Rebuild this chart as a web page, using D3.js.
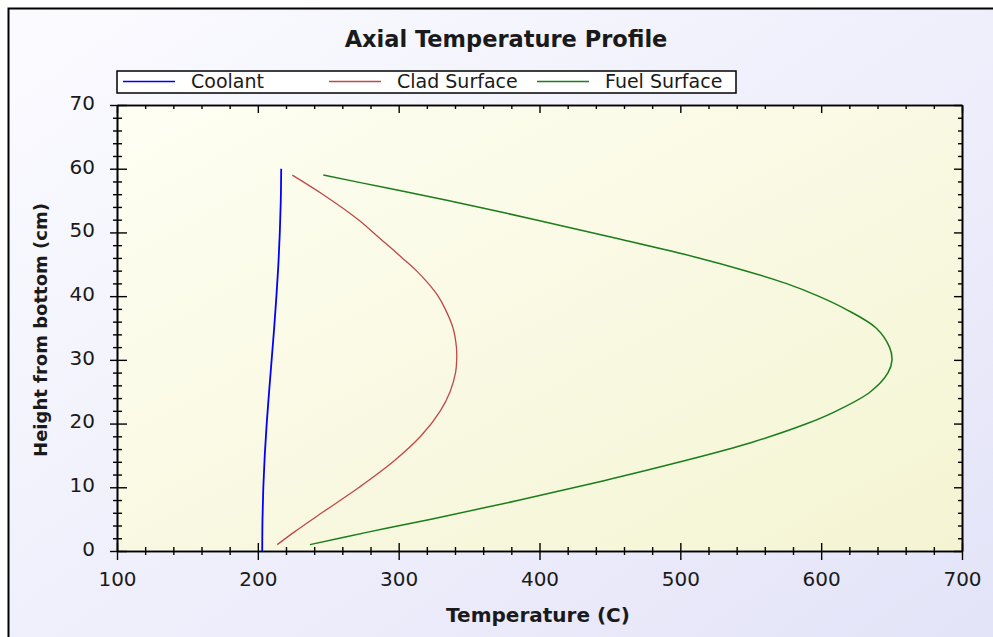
<!DOCTYPE html>
<html>
<head>
<meta charset="utf-8">
<script src="https://cdn.jsdelivr.net/npm/d3@7"></script>
<style>
  body { margin: 0; background: #ffffff; }
  svg { display: block; }
</style>
</head>
<body>
<div id="chart"></div>
<script>
// series data (height in cm, temperature in C)
const coolantHeights = [0, 5, 10, 15, 20, 25, 30, 35, 40, 45, 50, 55, 60];
const coolantTemps = [203.1, 203.3, 203.9, 204.9, 206.3, 208.0, 209.8, 211.6, 213.2, 214.6, 215.6, 216.3, 216.6];

const cladHeights = [1, 3, 6, 10, 14, 18, 22, 25, 28, 30, 32, 35, 38, 40, 42, 44, 46, 49, 52, 56, 59];
const cladTemps = [213.8, 226, 245.5, 272, 296, 315.6, 329.6, 336.5, 340.4, 341.2, 341, 338.6, 333, 328, 321, 312.5, 302.5, 287, 271.4, 246, 224.5];

const fuelHeights = [1, 3, 5, 8, 11, 14, 17, 20, 22, 25, 28, 30, 32, 35, 38, 40, 42, 44, 46, 49, 52, 55, 57, 59];
const fuelTemps = [237, 279, 323, 386, 445, 500, 550, 590, 611, 635, 647.5, 650.3, 648.5, 639, 617, 598, 575, 546, 513, 456, 397, 335, 291, 246.5];

const seriesNames = ['Coolant', 'Clad Surface', 'Fuel Surface'];
const xMajorTicks = [100, 200, 300, 400, 500, 600, 700];
const yMajorTicks = [0, 10, 20, 30, 40, 50, 60, 70];

class ProfileChart {

  constructor(_config) {
    this.config = {
      parentElement: _config.parentElement,
      containerWidth: 993,
      containerHeight: 637,
      margin: {top: 105, right: 31, bottom: 86, left: 117}
    };
    this.series = [
      {name: seriesNames[0], color: '#0000ff', width: 1.8, points: coolantHeights.map((h, i) => ({h: h, t: coolantTemps[i]}))},
      {name: seriesNames[1], color: '#c04848', width: 1.3, points: cladHeights.map((h, i) => ({h: h, t: cladTemps[i]}))},
      {name: seriesNames[2], color: '#1a7d1a', width: 1.5, points: fuelHeights.map((h, i) => ({h: h, t: fuelTemps[i]}))}
    ];
    this.initVis();
  }

  initVis() {
    let vis = this;
    const m = vis.config.margin;
    vis.width = vis.config.containerWidth - m.left - m.right;
    vis.height = vis.config.containerHeight - m.top - m.bottom;

    vis.svg = d3.select(vis.config.parentElement).append('svg')
      .attr('width', vis.config.containerWidth)
      .attr('height', vis.config.containerHeight);

    // gradients
    const defs = vis.svg.append('defs');
    const outerGrad = defs.append('linearGradient').attr('id', 'outerGrad')
      .attr('x1', '0%').attr('y1', '0%').attr('x2', '100%').attr('y2', '100%');
    outerGrad.append('stop').attr('offset', '0%').attr('stop-color', '#fbfbff');
    outerGrad.append('stop').attr('offset', '100%').attr('stop-color', '#e2e2f8');
    const plotGrad = defs.append('linearGradient').attr('id', 'plotGrad')
      .attr('x1', '0%').attr('y1', '0%').attr('x2', '100%').attr('y2', '100%');
    plotGrad.append('stop').attr('offset', '0%').attr('stop-color', '#fefef3');
    plotGrad.append('stop').attr('offset', '100%').attr('stop-color', '#f4f4d3');

    // outer panel (runs past the right and bottom edge)
    vis.svg.append('rect')
      .attr('x', 8.5).attr('y', 8.5)
      .attr('width', 1000).attr('height', 700)
      .attr('fill', 'url(#outerGrad)')
      .attr('stroke', '#000').attr('stroke-width', 2);

    vis.chart = vis.svg.append('g')
      .attr('transform', `translate(${m.left},${m.top})`);

    vis.chart.append('rect')
      .attr('width', vis.width).attr('height', vis.height)
      .attr('fill', 'url(#plotGrad)');

    // scales
    vis.xScale = d3.scaleLinear().domain([100, 700]).range([0, vis.width]);
    vis.yScale = d3.scaleLinear().domain([0, 70]).range([vis.height, 0]);

    const xMinor = d3.range(100, 701, 20).filter(v => v % 100 !== 0);
    const yMinor = d3.range(0, 71, 2).filter(v => v % 10 !== 0);

    // bottom axis, ticks cross the axis line
    const xAxis = vis.chart.append('g').attr('class', 'axis')
      .attr('transform', `translate(0,${vis.height})`)
      .call(d3.axisBottom(vis.xScale).tickValues(xMajorTicks).tickSizeInner(9).tickSizeOuter(0).tickPadding(12));
    xAxis.selectAll('.tick line').attr('y1', -8);
    vis.chart.append('g').attr('class', 'axis minor')
      .attr('transform', `translate(0,${vis.height})`)
      .call(d3.axisBottom(vis.xScale).tickValues(xMinor).tickSizeInner(4).tickSizeOuter(0).tickFormat(''))
      .selectAll('.tick line').attr('y1', -4);

    // left axis
    const yAxis = vis.chart.append('g').attr('class', 'axis')
      .call(d3.axisLeft(vis.yScale).tickValues(yMajorTicks).tickSizeInner(7).tickSizeOuter(0).tickPadding(15));
    yAxis.selectAll('.tick line').attr('x1', 10);
    yAxis.selectAll('.tick text').attr('dy', '0.22em');
    vis.chart.append('g').attr('class', 'axis minor')
      .call(d3.axisLeft(vis.yScale).tickValues(yMinor).tickSizeInner(4).tickSizeOuter(0).tickFormat(''))
      .selectAll('.tick line').attr('x1', 5);

    // top and right axes, ticks inside only
    vis.chart.append('g').attr('class', 'axis')
      .call(d3.axisTop(vis.xScale).tickValues(xMajorTicks).tickSizeInner(-8).tickSizeOuter(0).tickFormat(''));
    vis.chart.append('g').attr('class', 'axis minor')
      .call(d3.axisTop(vis.xScale).tickValues(xMinor).tickSizeInner(-4).tickSizeOuter(0).tickFormat(''));
    vis.chart.append('g').attr('class', 'axis')
      .attr('transform', `translate(${vis.width},0)`)
      .call(d3.axisRight(vis.yScale).tickValues(yMajorTicks).tickSizeInner(-8).tickSizeOuter(0).tickFormat(''));
    vis.chart.append('g').attr('class', 'axis minor')
      .attr('transform', `translate(${vis.width},0)`)
      .call(d3.axisRight(vis.yScale).tickValues(yMinor).tickSizeInner(-4).tickSizeOuter(0).tickFormat(''));

    vis.chart.selectAll('.axis path').attr('stroke', '#000').attr('stroke-width', 1.6);
    vis.chart.selectAll('.axis line').attr('stroke', '#000').attr('stroke-width', 1.4);
    vis.chart.selectAll('.axis text')
      .attr('font-family', 'DejaVu Sans').attr('font-size', 20).attr('fill', '#1a1a1a');

    // titles
    vis.svg.append('text').text('Axial Temperature Profile')
      .attr('x', 506).attr('y', 47)
      .attr('text-anchor', 'middle')
      .attr('font-family', 'DejaVu Sans').attr('font-weight', 'bold').attr('font-size', 22.5)
      .attr('fill', '#1a1a1a');
    vis.svg.append('text').text('Temperature (C)')
      .attr('x', 538).attr('y', 622)
      .attr('text-anchor', 'middle')
      .attr('font-family', 'DejaVu Sans').attr('font-weight', 'bold').attr('font-size', 20)
      .attr('fill', '#1a1a1a');
    vis.svg.append('text').text('Height from bottom (cm)')
      .attr('transform', 'translate(47,330) rotate(-90)')
      .attr('text-anchor', 'middle')
      .attr('font-family', 'DejaVu Sans').attr('font-weight', 'bold').attr('font-size', 18)
      .attr('fill', '#1a1a1a');

    // legend
    vis.legend = vis.svg.append('g').attr('class', 'legend')
      .attr('transform', 'translate(117,71)');
    vis.legend.append('rect')
      .attr('width', 619).attr('height', 22)
      .attr('fill', '#ffffff')
      .attr('stroke', '#000').attr('stroke-width', 1.5);
    const itemX = [6, 212, 420];
    vis.series.forEach((s, i) => {
      vis.legend.append('line')
        .attr('x1', itemX[i]).attr('x2', itemX[i] + 52)
        .attr('y1', 10.5).attr('y2', 10.5)
        .attr('stroke', s.color).attr('stroke-width', 1.6);
      vis.legend.append('text').text(s.name)
        .attr('x', itemX[i] + 68).attr('y', 17)
        .attr('font-family', 'DejaVu Sans').attr('font-size', 19)
        .attr('fill', '#1a1a1a');
    });
  }

  renderVis() {
    let vis = this;
    const line = d3.line()
      .x(d => vis.xScale(d.t))
      .y(d => vis.yScale(d.h))
      .curve(d3.curveCatmullRom.alpha(0.5));

    vis.chart.selectAll('.profile')
      .data(vis.series)
      .join('path')
      .attr('class', 'profile')
      .attr('d', d => line(d.points))
      .attr('fill', 'none')
      .attr('stroke', d => d.color)
      .attr('stroke-width', d => d.width);
  }
}

const chart = new ProfileChart({parentElement: '#chart'});
chart.renderVis();
</script>
</body>
</html>
